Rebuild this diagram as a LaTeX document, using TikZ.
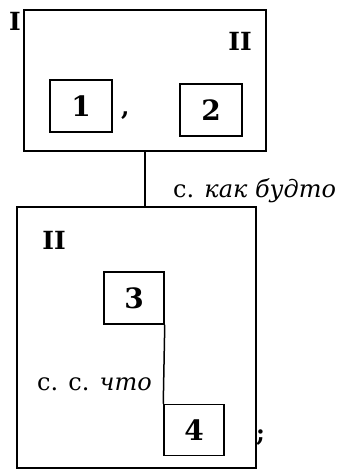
\documentclass[tikz,border=0pt]{standalone}
\usepackage{fontspec}
\setmainfont{DejaVu Serif}
\begin{document}
\begin{tikzpicture}[x=1pt,y=-1pt,
  frame/.style={draw,line width=1.5pt,inner sep=0pt},
  cell/.style={draw,line width=1.5pt,inner sep=0pt,minimum width=62pt,minimum height=52pt,font=\fontsize{28}{28}\selectfont\bfseries},
  roman/.style={inner sep=0pt,font=\fontsize{25}{25}\selectfont\bfseries},
  lbl/.style={inner sep=0pt,font=\fontsize{24}{24}\selectfont},
  punct/.style={inner sep=0pt,font=\fontsize{24}{24}\selectfont\bfseries},
  link/.style={line width=1.5pt}]
\useasboundingbox (0,0) rectangle (342,475);
\node[frame,minimum width=242pt,minimum height=141pt] (T) at (145,80.5) {};
\node[frame,minimum width=239pt,minimum height=261pt] (B) at (136.5,337.5) {};
\node[roman] (r1) at (15,21) {I};
\node[roman] (r2) at (240,41) {II};
\node[roman] (r3) at (54,240) {II};
\node[cell] (c1) at (81,106) {1};
\node[cell] (c2) at (211,110) {2};
\node[cell,minimum width=60pt] (c3) at (134,298) {3};
\node[cell,minimum width=60pt,minimum height=51pt] (c4) at (194,430) {4};
\node[punct,anchor=base west] (comma) at (121,115) {,};
\node[punct,anchor=base west] (semi) at (256,441) {;};
\draw[link] (T.south) -- (T.south |- B.north);
\draw[link] (c3.south east) -- (c4.north west);
\node[lbl,anchor=base west] (k1) at (173,197) {с. \textit{как будто}};
\node[lbl,anchor=base west] (k2) at (37,390) {с. с. \textit{что}};
\end{tikzpicture}
\end{document}
